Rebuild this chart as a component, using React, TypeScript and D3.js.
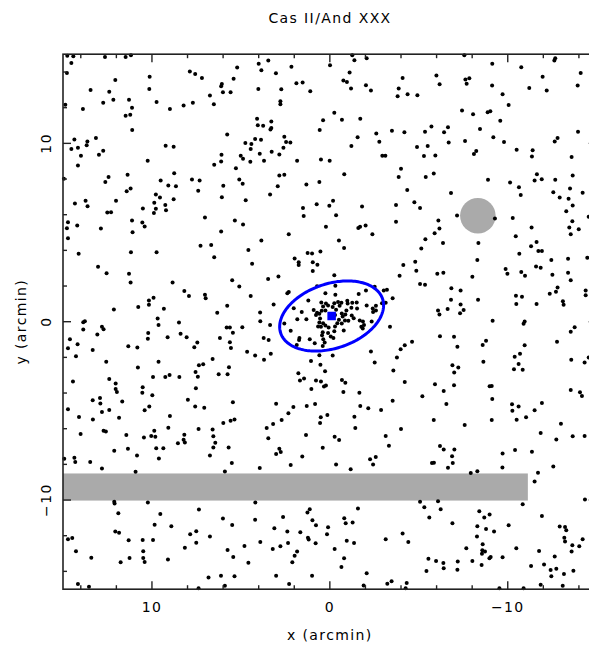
import React from "react";
import * as d3 from "d3";

const title = "Cas II/And XXX";
const xLabel = "x (arcmin)";
const yLabel = "y (arcmin)";
const xDomain: [number, number] = [15, -15];
const yDomain: [number, number] = [15, -15];
const majorTicks = [10, 0, -10];
const minorTicks = [14, 12, 8, 6, 4, 2, -2, -4, -6, -8, -12, -14];

// masked regions (arcmin)
const maskCircle = { x: -8.32, y: 5.94, r: 1.0 };
const maskRect = { x0: 15, x1: -11.13, y0: -8.51, y1: -10.03 };
// half-light ellipse & centre
const centre = { x: -0.1, y: 0.32 };
const ellipseA = 3.02;
const ellipseB = 1.81;
const ellipseAngleDeg = 161.5;

const starsNorthEast: number[][] = [
[14.76,14.91],[14.42,14.89],[12.64,14.85],[11.48,14.85],[11.18,14.94],[14.53,14.51],[14.78,13.95],[12.06,13.56],[13.45,12.99],[12.40,12.90],[12.74,12.28],[12.17,12.45],[14.87,12.17],[13.88,11.93],[11.29,12.45],[11.12,12.00],[11.22,11.61],[11.48,11.55],[11.11,10.75],[10.13,13.74],[10.15,13.05],[9.74,12.32],[8.99,11.93],[8.22,12.13],[7.70,12.28],[7.87,14.03],[7.57,13.89],[7.19,13.67],[6.74,12.68],[6.52,12.19],[6.07,13.33],[6.11,13.20],[6.01,12.86],[5.58,12.86],[5.41,13.63],[5.21,14.25],[5.77,10.50],[14.36,10.21],[14.53,9.68],[14.16,9.76],[13.67,9.89],[13.63,10.11],[13.15,10.30],[12.74,9.59],[12.98,9.36],[13.99,9.31],[14.16,8.76],[10.24,9.03],[9.23,9.87],[8.78,9.81],[6.09,9.36],[6.11,8.99],[6.50,8.80],[5.28,8.61],[14.95,8.01],[12.44,8.11],[12.62,7.83],[11.37,8.24],[9.51,7.92],[11.20,7.47],[11.42,7.32],[8.75,8.33],[9.08,7.64],[8.65,7.60],[7.75,7.98],[7.32,7.92],[7.40,7.34],[5.99,7.62],[6.07,6.98],[9.78,7.13],[9.55,6.97],[9.87,6.67],[9.25,6.55],[9.78,6.33],[9.21,6.25],[9.89,6.09],[8.78,6.87],[10.51,6.35],[12.02,6.78],[13.73,6.78],[13.62,6.48],[14.33,6.63],[12.51,6.12],[12.30,6.14],[7.02,5.84],[5.34,5.67],[14.72,5.58],[14.78,5.24],[14.20,5.39],[12.87,5.22],[11.12,5.67],[10.54,5.56],[10.41,5.34],[11.09,5.02],[6.11,5.06]
];

const starsNorth: number[][] = [
[4.00,14.46],[3.46,14.64],[3.85,14.10],[3.03,13.93],[2.16,14.29],[-0.01,14.38],[-1.26,14.94],[-1.38,14.66],[-2.07,14.77],[-1.11,13.97],[-0.76,13.52],[-0.96,13.44],[4.02,13.05],[2.73,13.03],[1.88,13.37],[1.53,13.41],[1.10,12.92],[-1.19,13.07],[-2.03,13.26],[-2.31,12.96],[-4.09,13.67],[-3.87,13.07],[-3.81,12.64],[-4.37,12.75],[-4.92,12.70],[2.78,12.36],[2.78,12.19],[-0.25,11.72],[0.38,11.29],[-0.68,11.33],[-1.71,11.38],[4.09,11.38],[4.05,11.01],[3.75,10.99],[3.29,11.22],[3.34,10.78],[3.29,10.86],[0.57,10.75],[-3.49,10.71],[-4.19,10.62],[-2.61,10.56],[-1.56,10.35],[-2.78,10.09],[-1.21,9.85],[-4.90,9.79],[4.75,10.02],[4.41,9.96],[4.45,9.68],[4.20,10.24],[3.87,10.20],[2.56,10.37],[2.46,10.07],[2.22,10.05],[2.61,9.75],[3.27,9.53],[2.84,9.38],[3.94,9.42],[5.01,9.31],[4.88,9.14],[4.47,8.97],[3.70,9.02],[1.84,9.02],[0.50,9.10],[0.01,9.02],[-2.95,9.31],[-3.12,9.31],[-4.00,8.57],[-3.87,8.11],[-4.35,7.39],[-4.75,6.70],[-0.81,8.27],[0.59,7.83],[1.32,7.69],[2.84,8.20],[2.56,8.24],[2.93,7.60],[3.36,7.13],[5.09,7.98],[4.90,7.73],[4.73,6.81],[1.51,6.38],[1.47,5.93],[0.74,6.59],[0.03,6.50],[-0.18,6.78],[-0.35,5.97],[-1.81,6.46],[-3.72,6.55],[-3.72,5.61],[0.22,5.33],[-1.60,5.26],[-1.70,5.32],[-2.01,5.39],[-2.39,4.90],[2.31,4.90],[4.88,5.45]
];

const starsNorthWest: number[][] = [
[-7.56,14.94],[-9.13,14.46],[-10.76,14.27],[-12.62,14.64],[-12.67,14.77],[-14.10,13.95],[-5.99,13.80],[-6.17,13.31],[-7.62,13.58],[-7.84,13.65],[-7.69,13.35],[-9.12,13.24],[-11.96,13.73],[-11.21,13.11],[-12.19,12.96],[-13.93,13.24],[-9.71,12.75],[-10.05,12.15],[-7.43,11.85],[-8.05,11.63],[-8.87,11.74],[-9.02,11.80],[-9.58,11.27],[-5.71,10.95],[-5.35,10.65],[-6.42,10.63],[-6.64,10.90],[-8.44,10.80],[-13.95,10.65],[-5.50,9.85],[-6.68,10.05],[-7.60,10.13],[-9.19,10.35],[-9.79,10.07],[-5.29,9.29],[-5.93,9.32],[-8.10,9.40],[-8.23,9.57],[-10.50,9.64],[-11.40,9.62],[-11.36,9.27],[-12.64,10.11],[-12.80,10.30],[-13.59,9.23],[-5.39,8.11],[-5.84,8.31],[-8.89,7.96],[-10.13,7.81],[-10.63,7.54],[-10.73,7.11],[-11.64,8.27],[-11.51,7.92],[-11.91,7.99],[-12.67,7.96],[-13.65,8.20],[-6.81,7.21],[-5.07,6.38],[-7.15,5.95],[-9.28,5.78],[-10.28,5.82],[-11.34,5.28],[-12.56,7.26],[-12.92,6.96],[-13.42,6.89],[-13.50,7.47],[-14.21,7.23],[-13.65,6.51],[-13.29,6.20],[-14.55,5.88],[-13.63,5.63],[-13.46,5.28],[-13.99,5.18],[-13.54,4.90],[-6.10,5.67],[-6.16,5.22],[-5.89,4.96],[-10.45,4.79]
];

const starsEast: number[][] = [
[14.72,4.68],[14.12,3.81],[11.18,3.89],[9.74,3.89],[7.27,4.26],[6.67,4.30],[6.50,3.61],[13.03,3.08],[12.55,2.71],[11.29,2.69],[11.20,2.20],[8.84,2.20],[8.18,1.72],[7.92,1.44],[7.02,1.51],[6.98,1.32],[5.49,2.32],[5.09,1.98],[12.14,0.69],[10.77,0.82],[10.17,1.19],[10.17,0.95],[9.91,1.34],[9.33,0.72],[6.33,0.50],[5.77,0.89],[13.86,-0.03],[13.77,0.03],[13.86,-0.44],[12.81,-0.29],[12.72,-0.42],[13.07,-0.72],[9.68,0.18],[9.63,-0.18],[8.48,-0.04],[10.21,-0.64],[10.23,-0.96],[9.12,-0.87],[8.39,-0.68],[8.05,-0.87],[5.80,-0.33],[5.62,-0.33],[5.45,-0.62],[6.18,-0.91],[14.61,-0.98],[14.18,-1.26],[14.72,-1.49],[13.33,-1.58],[11.33,-1.37],[10.82,-1.45],[7.45,-1.17],[7.62,-1.43],[5.62,-1.15],[5.56,-1.47],[14.27,-1.94],[12.57,-2.24],[9.63,-2.25],[10.79,-2.57],[6.59,-2.09],[7.36,-2.44],[7.12,-2.39],[7.55,-2.82],[7.42,-3.08],[5.67,-2.55],[5.75,-2.95],[6.25,-2.95],[9.94,-3.10],[9.25,-3.10],[9.01,-2.99],[8.46,-3.10],[14.44,-3.36],[12.40,-3.21],[12.04,-3.47],[12.04,-3.77],[11.97,-3.94],[10.52,-3.68],[10.54,-3.98],[9.98,-4.13],[7.53,-3.73],[13.33,-4.41],[12.92,-4.28],[12.90,-4.58],[11.67,-4.48],[7.98,-4.37],[5.45,-4.52],[14.72,-4.91],[12.81,-5.06],[12.40,-4.95],[10.41,-4.97],[10.15,-4.75],[7.57,-4.75],[7.06,-4.82],[14.10,-5.34],[11.85,-5.38],[8.99,-5.29]
];

const starsCentreField: number[][] = [
[3.85,4.56],[-0.51,4.56],[-0.80,4.13],[4.58,4.02],[1.25,3.85],[1.00,3.83],[0.53,3.94],[4.37,3.25],[1.98,3.55],[1.75,3.33],[1.75,3.18],[0.96,3.33],[0.70,3.20],[0.96,2.84],[-0.25,2.60],[2.89,2.54],[3.47,2.39],[-4.13,3.18],[-4.80,3.36],[-4.86,2.86],[-3.92,2.58],[2.31,1.66],[2.39,1.59],[4.45,1.44],[3.16,0.97],[3.92,0.52],[3.91,0.03],[3.36,-0.19],[4.92,-0.31],[-3.38,-0.29],[-4.62,-1.13],[-4.21,-1.32],[-3.98,-1.54],[3.72,-0.91],[3.44,-1.02],[4.65,-1.69],[4.20,-1.90],[3.70,-2.14],[3.32,-1.80],[-2.31,-1.67],[-2.52,-2.29],[-3.77,-2.01],[1.06,-2.20],[0.59,-1.88],[-0.16,-1.90],[0.53,-2.42],[0.27,-2.78],[-3.57,-2.74],[1.77,-2.89],[1.68,-3.30],[1.45,-3.19],[0.78,-3.30],[0.50,-3.36],[0.33,-3.64],[0.22,-3.58],[1.04,-3.77],[-0.68,-3.27],[-0.87,-3.42],[-0.76,-3.94],[-1.66,-3.99],[-4.21,-3.38],[3.02,-4.60],[2.05,-4.78],[1.30,-4.73],[0.83,-4.61],[2.33,-5.14],[-1.38,-5.33],[-1.71,-4.73],[-2.16,-4.86],[-2.88,-4.95],[-3.53,-4.43]
];

const starsCluster: number[][] = [
[0.72,1.99],[-0.31,2.02],[0.25,1.60],[-0.31,1.51],[-1.62,1.55],[-2.03,1.75],[-2.52,1.96],[-3.03,1.75],[-3.21,1.79],[-3.53,1.32],[-3.14,1.06],[-2.93,1.04],[-2.59,0.89],[-2.41,0.74],[1.21,1.19],[1.58,0.54],[2.03,0.76],[1.83,0.14],[1.32,0.14],[0.91,0.65],[0.72,0.50],[0.78,0.37],[0.59,0.44],[0.48,1.08],[0.38,0.85],[0.22,1.02],[0.10,0.91],[0.25,0.63],[0.46,0.61],[-0.16,0.82],[-0.25,1.04],[-0.46,1.10],[-0.55,0.89],[-0.65,1.06],[-0.35,0.67],[-0.29,0.37],[-0.98,1.17],[-1.00,1.02],[-1.26,1.06],[-1.51,1.08],[-1.53,0.74],[-1.21,0.78],[-0.93,0.63],[-0.87,0.40],[-0.72,0.29],[-0.67,0.46],[-1.23,0.35],[-1.34,0.20],[-1.04,0.05],[-0.51,0.11],[-0.85,0.07],[-0.42,-0.08],[-0.67,-0.10],[0.55,0.18],[0.59,-0.04],[0.38,-0.08],[0.25,-0.21],[0.07,-0.33],[0.66,-0.27],[0.50,-0.29],[-0.29,-0.27],[-0.25,-0.53],[-0.78,-0.49],[-1.68,0.07],[-1.86,0.01],[-1.77,-0.29],[-1.92,-0.18],[-1.85,-0.38],[-2.35,0.01],[-2.59,0.63],[-2.07,0.91],[-2.43,0.54],[0.40,-0.59],[0.44,-0.76],[0.37,-0.98],[0.29,-1.17],[-0.05,-0.83],[-0.20,-0.91],[0.10,-0.64],[0.85,-1.21],[1.13,-0.98],[1.71,-0.91],[1.73,-1.02],[2.20,-0.51],[2.56,-0.10],[1.86,-1.30],[0.40,-1.36]
];

const starsWest: number[][] = [
[-5.37,4.62],[-5.14,4.10],[-6.36,4.41],[-8.35,4.41],[-6.04,2.69],[-6.38,2.75],[-5.07,2.11],[-5.35,2.07],[-8.29,3.46],[-8.01,2.52],[-6.83,1.88],[-7.35,1.75],[-6.81,1.23],[-7.35,0.97],[-7.52,0.65],[-7.32,0.48],[-6.62,0.71],[-6.08,0.63],[-6.16,0.40],[-8.33,1.23],[-11.62,4.47],[-11.31,4.23],[-11.72,3.96],[-11.92,3.96],[-10.65,3.81],[-12.45,3.46],[-13.39,3.53],[-14.47,3.59],[-9.88,2.95],[-9.98,2.69],[-10.76,2.78],[-10.97,2.58],[-11.59,3.10],[-11.85,3.03],[-12.51,2.63],[-13.39,2.75],[-13.54,2.32],[-12.80,1.92],[-12.71,1.68],[-12.36,1.57],[-13.10,1.14],[-13.14,0.95],[-14.38,1.75],[-14.38,1.49],[-10.46,1.45],[-10.80,1.40],[-10.48,0.99],[-11.62,0.99],[-9.15,0.05],[-10.95,0.01],[-10.89,-0.12],[-13.54,-0.57],[-13.76,-0.31],[-6.19,-0.81],[-6.98,-0.85],[-7.17,-1.41],[-8.78,-1.07],[-8.59,-1.30],[-10.95,-1.32],[-12.77,-1.13],[-8.63,-2.25],[-6.89,-2.44],[-7.22,-2.57],[-6.99,-2.85],[-10.39,-1.96],[-10.69,-1.80],[-10.61,-2.37],[-10.35,-2.67],[-10.84,-2.70],[-13.57,-2.14],[-14.32,-2.29],[-14.55,-2.01],[-5.91,-3.51],[-6.40,-3.88],[-6.98,-3.57],[-5.20,-4.18],[-6.55,-4.61],[-8.98,-3.62],[-9.10,-3.60],[-9.13,-4.33],[-10.24,-4.63],[-10.61,-4.75],[-10.26,-4.99],[-11.51,-4.97],[-11.92,-4.56],[-13.54,-3.83],[-14.06,-3.96],[-14.17,-4.17],[-11.03,-5.36]
];

const starsSouthEast: number[][] = [
[13.32,-5.48],[14.01,-6.30],[12.72,-6.11],[12.59,-6.15],[11.44,-6.36],[11.35,-7.12],[12.12,-7.24],[10.84,-7.50],[10.45,-6.49],[10.04,-6.41],[9.81,-6.45],[9.87,-6.11],[9.76,-7.09],[9.36,-7.09],[9.61,-7.67],[9.08,-5.95],[8.54,-6.81],[8.18,-6.34],[8.22,-6.62],[8.15,-6.77],[7.38,-6.02],[6.59,-6.04],[6.55,-6.43],[6.44,-6.79],[6.55,-7.05],[6.74,-7.50],[5.99,-5.68],[5.58,-5.55],[5.36,-5.48],[5.69,-7.05],[5.51,-7.93],[5.90,-8.40],[14.93,-7.69],[14.36,-7.63],[14.31,-7.87],[13.47,-7.87],[12.81,-8.23],[10.92,-8.42],[12.12,-10.10],[12.10,-10.20],[10.23,-10.14],[11.89,-10.74],[9.53,-10.78],[7.36,-10.53],[12.06,-11.77],[11.85,-11.84],[9.85,-11.38],[8.91,-11.47],[14.72,-12.20],[14.48,-12.13],[14.27,-12.87],[13.41,-13.23],[11.76,-13.49],[11.31,-12.26],[10.52,-12.24],[9.94,-12.24],[10.49,-12.87],[10.49,-13.25],[10.41,-13.47],[11.26,-13.25],[9.10,-13.33],[8.15,-12.67],[7.85,-11.92],[7.51,-11.75],[7.51,-12.39],[6.74,-12.05],[6.01,-11.04],[5.49,-11.40],[5.75,-12.80],[5.43,-13.19],[6.82,-14.35],[6.12,-14.24],[5.36,-14.28],[14.16,-14.71],[13.54,-14.86],[7.38,-14.94],[5.90,-14.80]
];

const starsSouth: number[][] = [
[0.51,-5.36],[0.14,-5.23],[2.71,-5.51],[3.19,-5.74],[3.55,-5.96],[3.46,-6.54],[1.34,-6.36],[0.55,-5.68],[-0.27,-6.45],[-0.52,-6.64],[-1.43,-5.96],[0.40,-7.07],[2.84,-7.13],[3.02,-7.42],[2.76,-7.31],[1.55,-7.56],[2.20,-8.04],[3.94,-8.21],[-0.35,-8.01],[-1.17,-8.27],[-2.26,-7.72],[-2.58,-7.59],[-2.43,-8.01],[-3.14,-6.41],[-3.32,-6.96],[-4.00,-6.02],[4.19,-10.14],[4.20,-11.10],[2.63,-10.95],[3.12,-11.58],[2.39,-11.77],[1.66,-11.81],[1.26,-10.70],[1.13,-10.52],[0.98,-11.13],[0.78,-11.41],[0.10,-11.53],[0.16,-11.92],[-0.81,-11.02],[-0.89,-11.30],[-1.28,-11.26],[-1.58,-10.48],[1.23,-12.11],[1.19,-12.22],[0.80,-12.43],[2.35,-12.41],[2.78,-12.59],[3.21,-12.74],[3.91,-12.35],[4.80,-12.58],[4.58,-13.51],[2.11,-13.49],[1.98,-13.12],[1.84,-12.89],[-0.27,-12.74],[-0.80,-13.27],[-0.95,-12.28],[-1.36,-12.41],[-0.65,-13.75],[3.02,-14.24],[1.00,-14.24],[2.29,-14.71],[-2.07,-14.11],[-1.90,-14.79],[-3.14,-12.20],[-4.09,-11.88],[-4.41,-12.35],[-3.23,-14.69],[-3.47,-14.56],[-4.32,-14.65],[-4.26,-14.95]
];

const starsSouthWest: number[][] = [
[-5.84,-5.51],[-7.58,-5.79],[-9.10,-5.51],[-10.50,-5.50],[-12.99,-5.72],[-11.85,-6.24],[-12.73,-6.60],[-13.65,-6.43],[-14.32,-6.41],[-6.19,-6.97],[-6.40,-7.16],[-7.00,-7.16],[-6.87,-7.54],[-6.91,-7.93],[-5.74,-7.93],[-5.85,-7.91],[-6.64,-8.19],[-7.92,-8.49],[-8.29,-8.38],[-9.71,-7.39],[-10.41,-7.20],[-11.36,-7.29],[-9.70,-8.17],[-12.56,-8.12],[-11.70,-8.47],[-11.51,-8.96],[-5.07,-10.10],[-6.08,-10.07],[-5.31,-10.40],[-6.23,-10.51],[-5.59,-10.98],[-10.84,-10.23],[-14.34,-9.97],[-6.89,-11.30],[-8.40,-10.63],[-8.68,-10.98],[-8.98,-10.81],[-8.29,-11.47],[-8.78,-11.62],[-9.23,-11.77],[-10.05,-11.41],[-11.92,-10.89],[-8.27,-12.05],[-8.59,-12.48],[-8.57,-12.82],[-8.72,-12.89],[-8.55,-13.01],[-9.04,-13.19],[-8.97,-13.27],[-7.67,-12.71],[-9.71,-13.21],[-10.48,-12.71],[-11.76,-12.86],[-12.92,-11.49],[-13.22,-11.51],[-13.29,-11.70],[-13.18,-12.11],[-13.22,-12.33],[-14.02,-12.59],[-13.63,-12.54],[-14.21,-12.20],[-13.59,-12.89],[-12.64,-13.17],[-5.54,-13.29],[-5.97,-13.42],[-6.38,-13.53],[-6.40,-13.83],[-7.19,-13.44],[-7.17,-13.91],[-8.01,-13.42],[-8.53,-13.64],[-5.43,-13.98],[-11.31,-13.70],[-12.04,-13.61],[-12.41,-13.92],[-12.73,-13.85],[-12.45,-14.28],[-13.16,-14.15],[-13.69,-13.96],[-9.53,-14.94],[-10.89,-14.95],[-11.85,-14.75],[-13.09,-14.80]
];

const W = 589;
const H = 652;
const FONT = "'DejaVu Sans', 'Liberation Sans', sans-serif";

export default function App() {
  const x = d3.scaleLinear().domain(xDomain).range([63, 596.7]);
  const y = d3.scaleLinear().domain(yDomain).range([54.2, 589.2]);
  const stars = [
    ...starsNorthEast, ...starsNorth, ...starsNorthWest,
    ...starsEast, ...starsCentreField, ...starsCluster, ...starsWest,
    ...starsSouthEast, ...starsSouth, ...starsSouthWest,
  ];
  const phi = (ellipseAngleDeg * Math.PI) / 180;
  const ts = d3.range(0, 2 * Math.PI, Math.PI / 90);
  const ellipsePath = d3
    .line<number>()
    .x((t) => x(centre.x + ellipseA * Math.cos(t) * Math.cos(phi) - ellipseB * Math.sin(t) * Math.sin(phi)))
    .y((t) => y(centre.y + ellipseA * Math.cos(t) * Math.sin(phi) + ellipseB * Math.sin(t) * Math.cos(phi)))
    .curve(d3.curveLinearClosed)(ts) as string;

  const [x0, x1] = x.range();
  const [y0, y1] = y.range();
  const major = 8;
  const minor = 4;
  const axisColor = "#222";
  const sq = 8.5;
  const fs = 14;
  const ls = 1.4;

  return (
    <svg width={W} height={H} style={{ position: "absolute", left: 0, top: 0, background: "#fff" }}>
      <rect x={0} y={0} width={W} height={H} fill="#fff" />
      <text x={330} y={23} textAnchor="middle" fontFamily={FONT} fontSize={fs} letterSpacing={ls} fill="#000">{title}</text>

      {/* masks */}
      <rect x={x(maskRect.x0)} y={y(maskRect.y0)} width={x(maskRect.x1) - x(maskRect.x0)} height={y(maskRect.y1) - y(maskRect.y0)} fill="#aaaaaa" />
      <circle cx={x(maskCircle.x)} cy={y(maskCircle.y)} r={x(0) - x(maskCircle.r)} fill="#aaaaaa" />

      {/* stars */}
      <g fill="#000">
        {stars.map((d, i) => (
          <circle key={i} cx={x(d[0])} cy={y(d[1])} r={2} />
        ))}
      </g>

      {/* ellipse & centre */}
      <path d={ellipsePath} fill="none" stroke="#0000ff" strokeWidth={3} />
      <rect x={x(centre.x) - sq / 2} y={y(centre.y) - sq / 2} width={sq} height={sq} fill="#0000ff" />

      {/* frame */}
      <rect x={x0} y={y0} width={x1 - x0} height={y1 - y0} fill="none" stroke={axisColor} strokeWidth={1.6} />
      <g stroke={axisColor} strokeWidth={1.4}>
        {majorTicks.map((t) => (
          <g key={"mx" + t}>
            <line x1={x(t)} x2={x(t)} y1={y1} y2={y1 - major} />
            <line x1={x(t)} x2={x(t)} y1={y0} y2={y0 + major} />
            <line x1={x0} x2={x0 + major} y1={y(t)} y2={y(t)} />
            <line x1={x1} x2={x1 - major} y1={y(t)} y2={y(t)} />
          </g>
        ))}
        {minorTicks.map((t) => (
          <g key={"mn" + t}>
            <line x1={x(t)} x2={x(t)} y1={y1} y2={y1 - minor} />
            <line x1={x(t)} x2={x(t)} y1={y0} y2={y0 + minor} />
            <line x1={x0} x2={x0 + minor} y1={y(t)} y2={y(t)} />
            <line x1={x1} x2={x1 - minor} y1={y(t)} y2={y(t)} />
          </g>
        ))}
      </g>

      {/* tick labels */}
      {majorTicks.map((t) => (
        <text key={"xl" + t} x={x(t)} y={612} textAnchor="middle" fontFamily={FONT} fontSize={fs} letterSpacing={ls} fill="#000">
          {t < 0 ? "\u2212" + Math.abs(t) : String(t)}
        </text>
      ))}
      {majorTicks.map((t) => (
        <text key={"yl" + t} transform={`translate(51, ${y(t)}) rotate(-90)`} textAnchor="middle" fontFamily={FONT} fontSize={fs} letterSpacing={ls} fill="#000">
          {t < 0 ? "\u2212" + Math.abs(t) : String(t)}
        </text>
      ))}

      <text x={x(0)} y={640} textAnchor="middle" fontFamily={FONT} fontSize={fs} letterSpacing={ls} fill="#000">{xLabel}</text>
      <text transform={`translate(26, ${y(0)}) rotate(-90)`} textAnchor="middle" fontFamily={FONT} fontSize={fs} letterSpacing={ls} fill="#000">{yLabel}</text>
    </svg>
  );
}
